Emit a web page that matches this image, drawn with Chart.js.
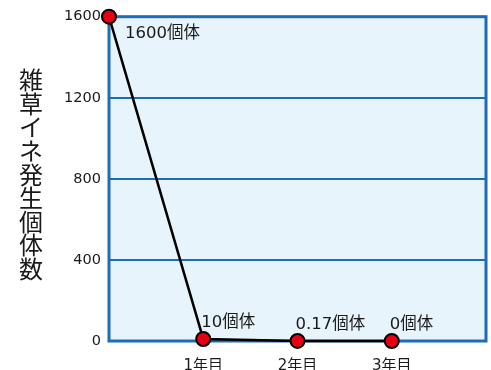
<!DOCTYPE html>
<html>
<head>
<meta charset="utf-8">
<script src="https://cdn.jsdelivr.net/npm/chart.js@4/dist/chart.umd.min.js"></script>
<style>
  html, body { margin: 0; padding: 0; background: #fff; }
  #wrap { width: 491px; height: 370px; }
</style>
</head>
<body>
<div id="wrap"><canvas id="chart" width="491" height="370"></canvas></div>
<script>
const categories = ["", "1年目", "2年目", "3年目", ""];
const seedlings = [1600, 10, 0.17, 0, null];
const pointLabels = ["1600個体", "10個体", "0.17個体", "0個体"];
const yTicks = [0, 400, 800, 1200, 1600];
const yTitle = "雑草イネ発生個体数";

const BLUE = "#1c6db5";
const FONT = "'DejaVu Sans', 'Noto Sans CJK JP', sans-serif";

// light blue plot area with a blue frame
const plotFrame = {
  id: "plotFrame",
  beforeDraw(chart) {
    const { ctx, chartArea: a } = chart;
    ctx.save();
    ctx.fillStyle = "#e8f4fc";
    ctx.fillRect(a.left, a.top, a.right - a.left, a.bottom - a.top);
    ctx.restore();
  },
  beforeDatasetsDraw(chart) {
    const { ctx, chartArea: a } = chart;
    ctx.save();
    ctx.strokeStyle = BLUE;
    ctx.lineWidth = 3;
    ctx.strokeRect(a.left, a.top, a.right - a.left, a.bottom - a.top);
    ctx.restore();
  }
};

// upright vertical axis title and point labels
const texts = {
  id: "texts",
  afterDraw(chart) {
    const { ctx } = chart;
    ctx.save();
    ctx.fillStyle = "#1a1a1a";
    ctx.font = "24px 'Noto Sans CJK JP', sans-serif";
    ctx.textAlign = "center";
    ctx.textBaseline = "middle";
    [...yTitle].forEach((ch, i) => ctx.fillText(ch, 31, 80 + i * 23.6));

    const meta = chart.getDatasetMeta(0);
    ctx.font = "16.5px " + FONT;
    ctx.textAlign = "left";
    pointLabels.forEach((txt, i) => {
      const p = meta.data[i];
      if (i === 0) ctx.fillText(txt, p.x + 16, p.y + 17);
      else ctx.fillText(txt, p.x - 2, p.y - 16);
    });
    ctx.restore();
  }
};

new Chart(document.getElementById("chart"), {
  type: "line",
  data: {
    labels: categories,
    datasets: [{
      data: seedlings,
      borderColor: "#000",
      borderWidth: 2.5,
      pointRadius: 7,
      pointHoverRadius: 7,
      pointBackgroundColor: "#e60012",
      pointBorderColor: "#000",
      pointBorderWidth: 2,
      tension: 0,
      clip: false
    }]
  },
  options: {
    responsive: false,
    animation: false,
    layout: { autoPadding: false, padding: { top: 16, right: 5, left: 0, bottom: 0 } },
    plugins: { legend: { display: false }, tooltip: { enabled: false } },
    scales: {
      x: {
        offset: false,
        grid: { display: false },
        border: { display: false },
        ticks: { color: "#1a1a1a", font: { size: 15, family: FONT }, padding: 8, maxRotation: 0, autoSkip: false },
        afterFit(scale) {
          scale.height = 29;
          scale.paddingLeft = 0;
          scale.paddingRight = 0;
        }
      },
      y: {
        min: 0,
        max: 1600,
        afterBuildTicks(scale) { scale.ticks = yTicks.map(v => ({ value: v })); },
        grid: {
          drawTicks: false,
          lineWidth: 2,
          color: ctx => (ctx.tick.value === 0 || ctx.tick.value === 1600) ? "rgba(0,0,0,0)" : BLUE
        },
        border: { display: false },
        ticks: {
          color: "#1a1a1a",
          font: { size: 14.5, family: FONT },
          padding: 8,
          callback: v => String(v)
        },
        afterFit(scale) { scale.width = 109; }
      }
    }
  },
  plugins: [plotFrame, texts]
});
</script>
</body>
</html>
